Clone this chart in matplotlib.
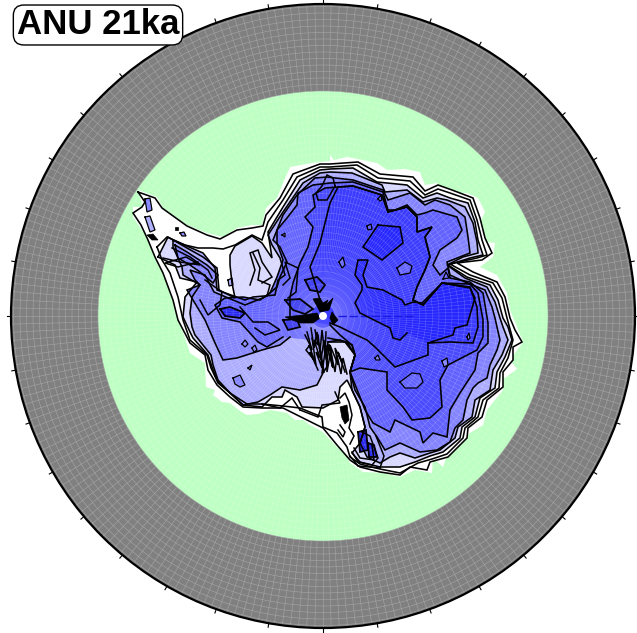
import numpy as np
import matplotlib
matplotlib.use("Agg")
import matplotlib.pyplot as plt
from matplotlib.collections import LineCollection
from matplotlib.patches import Circle

# map is in picture units, pole at the centre
pole = (323, 316)
r_grid = 312
r_ocean = 225

coast = [(138,190),(157,197),(163,208),(187,225),(207,233),(223,237),(237,228),(252,225),(262,225),(266,208),(277,198),(283,183),(290,167),
         (312,163),(330,161),(330,155),(334,160),(347,157),(377,163),(387,170),(405,169),(420,172),(425,185),(437,183),(443,192),(467,193),(478,198),(485,212),
         (480,223),(487,242),(495,243),(493,257),(480,267),(497,275),(507,293),(510,310),(517,327),(523,342),(510,360),(517,369),
         (502,380),(503,390),(487,410),(483,425),(470,433),(448,453),(443,467),(433,458),(432,473),(415,470),(400,477),(383,473),(363,472),
         (350,463),(345,453),(337,447),(323,432),(310,425),(303,420),(295,420),(287,413),(270,410),(258,414),(247,415),(240,411),(230,403),(222,402),(213,395),(215,390),(206,387),(205,363),
         (190,353),(178,317),(172,297),(162,270),(153,253),(147,237),(133,217),(133,207),(143,207)]

ring_a = [(138,192),(155,198),(162,208),(187,226),(207,235),(220,239),(237,230),(252,228),(263,226),(266,215),(280,198),(293,174),
          (320,164),(330,164),(358,162),(380,174),(413,177),(425,191),(438,185),(452,190),(473,198),(480,218),(485,238),(492,253),
          (482,260),(457,263),(473,272),(497,282),(505,297),(510,318),(515,330),(522,342),(513,347),(513,360),(503,372),(503,387),
          (487,400),(482,417),(468,428),(467,438),(448,457),(430,462),(427,470),(410,467),(400,475),(380,472),(360,467),(350,460),
          (337,445),(323,428),(303,418),(283,408),(262,408),(243,407),(230,397),(217,385),(208,370),(205,355),(190,343),(178,320),
          (173,300),(163,273),(155,257),(148,240),(141,225),(133,213),(142,207),(145,202)]

ring_b = [(157,247),(167,237),(185,245),(198,248),(213,248),(223,249),(235,245),(252,235),(262,240),(268,222),(283,200),(297,177),
          (320,167),(330,167),(357,165),(378,178),(410,181),(425,195),(438,189),(450,193),(470,200),(477,220),(482,240),(487,255),
          (477,258),(450,264),(470,275),(493,283),(502,298),(507,318),(513,340),(508,358),(500,373),(499,388),(483,400),(478,417),
          (465,428),(463,438),(447,454),(432,459),(418,463),(400,473),(380,469),(360,464),(350,457),(347,447),(337,433),(323,427),
          (322,417),(300,408),(283,406),(262,404),(247,404),(230,393),(218,383),(211,368),(207,355),(190,340),(183,320),(178,297),
          (170,273),(162,260)]

ring_c = [(158,257),(168,237),(187,248),(203,257),(217,268),(219,290),(235,298),(232,283),(230,265),(230,255),(235,246),(252,236),(262,243),(272,258),(268,232),(283,207),
          (300,180),(320,170),(330,169),(353,168),(377,182),(407,185),(423,198),(437,193),(450,198),(468,203),(475,222),(478,240),
          (483,255),(470,258),(448,265),(467,277),(490,285),(498,300),(503,318),(508,327),(512,340),(505,357),(497,372),(495,388),
          (480,398),(475,417),(462,427),(460,438),(443,452),(430,456),(415,462),(400,467),(380,467),(360,462),(352,453),(360,443),
          (365,427),(360,407),(352,390),(347,380),(340,387),(338,400),(323,408),(302,407),(297,397),(285,390),(282,397),(272,397),
          (267,402),(262,407),(243,405),(230,393),(218,382),(212,367),(208,355),(193,338),(190,332),(183,317),(185,297),(197,282),
          (180,278),(175,265)]

ring_d = [(173,240),(203,253),(215,268),(217,290),(245,300),(253,297),(275,295),(278,280),(285,275),(280,258),(272,245),(268,235),
          (283,212),(303,183),(320,173),(330,172),(352,173),(382,185),(385,192),(407,190),(423,202),(437,198),(447,200),(465,207),
          (473,223),(477,242),(478,253),(463,257),(447,265),(465,278),(487,287),(495,302),(500,318),(503,327),(508,340),(502,355),
          (493,370),(490,390),(475,400),(472,417),(458,427),(455,438),(440,450),(430,453),(415,458),(400,453),(390,457),(380,463),
          (367,457),(360,443),(365,427),(360,407),(352,390),(350,372),(355,355),(345,342),(328,342),(326,358),(328,365),(323,373),
          (317,385),(300,390),(282,387),(270,395),(258,402),(243,405),(230,393),(218,380),(213,365),(211,355),(195,335),(192,327),
          (190,313),(192,297),(200,285),(183,275),(182,267),(173,247)]

# e, f, g and h are left open where they run into the trough at the pole
ring_e = [(290,337),(280,345),(262,350),(237,358),(223,360),(215,343),(205,320),(187,290),(200,285),(195,280),(190,270),(205,275),(214,292),(245,305),(265,297),(277,287),(280,277),(287,262),(280,247),(273,240),
          (283,215),(297,195),(315,178),(327,177),(353,180),(383,190),(388,200),(410,193),(425,205),(435,200),(450,205),(465,217),
          (468,237),(470,253),(447,262),(450,275),(465,282),(485,290),(492,307),(495,318),(497,327),(500,340),(497,350),(490,365),
          (487,378),(478,383),(473,388),(467,400),(463,420),(455,428),(450,442),(437,450),(420,452),(400,443),(385,450),(377,437),
          (370,427),(365,407),(355,390),(350,372),(355,355),(347,342),(338,340),(328,338)]

ring_f = [(283,337),(267,347),(258,342),(240,322),(222,318),(215,305),
          (225,298),(243,297),(260,300),(270,293),(277,277),(283,260),(277,243),(277,230),(287,218),(297,205),(298,193),(313,185),(330,183),(353,182),(383,192),(388,210),(395,210),(407,205),(417,215),(425,213),(433,210),(457,217),
          (462,230),(457,238),(440,250),(433,265),(440,275),(448,268),(450,278),(470,282),(483,293),(487,317),(488,323),(488,343),
          (478,353),(475,370),(460,393),(450,410),(447,437),(433,433),(423,443),(420,432),(395,420),(390,432),(373,423),(365,410),
          (360,397),(350,372),(355,355),(352,345),(340,340),(328,342)]

band_e = [(175,245),(187,252),(207,265),(218,275),(213,283),(200,272),(190,265),(178,258)]

ring_g = [(290,317),(290,297),(293,283),(300,263),(308,247),(313,227),(305,217),(315,207),(313,195),(325,188),(338,187),(353,186),(382,195),(388,212),(407,207),(417,217),(417,232),(432,227),
          (425,237),(430,257),(425,270),(417,287),(413,300),(423,305),(442,283),(470,284),(478,293),(483,320),(483,337),(477,350),
          (448,365),(440,380),(442,407),(430,418),(412,420),(403,407),(387,390),(387,372),(360,368),(350,372),
          (355,355),(352,345),(340,335),(330,325)]

ring_h = [(320,300),(310,267),(320,243),(330,203),(338,187),(353,186),(382,195),(388,212),(407,207),(417,217),(417,232),(432,227),(425,237),(430,257),(425,270),(417,287),
          (413,300),(423,305),(442,283),(470,287),(477,307),(478,327),(473,343),(450,342),(428,343),(428,355),(395,367),(375,347),
          (367,340),(350,332),(340,327),(330,323)]

dome_a = [(378,225),(400,227),(403,243),(382,260),(363,247)]
dome_b = [(407,333),(400,340),(393,338),(390,328),(370,318),(360,313),(355,303),(362,290),(362,285),(355,275),(358,260),(368,260),
          (363,275),(367,287),(383,290),(402,300),(405,305),(413,302),(422,303),(442,283),(470,288),(475,298),(467,325),(455,328),
          (453,335),(428,343)]

# closed outlines drawn with the fill of their level
blobs_f = [[(397,268),(405,262),(412,266),(410,273),(400,275)],[(339,262),(343,257),(345,265),(342,268)],
           [(367,226),(371,224),(372,229),(368,230)],[(400,382),(412,373),(420,374),(423,382),(417,388),(405,388)],
           [(443,279),(446,272),(449,278)],[(378,199),(381,195),(382,200),(380,201)]]
blobs_e = [[(242,344),(245,340),(248,344),(245,347)],[(252,348),(255,345),(257,350),(254,352)],
           [(233,378),(240,375),(245,385),(240,387),(235,384)],[(248,368),(252,365),(250,370)],
           [(282,235),(285,233),(285,237)],[(375,358),(378,355),(380,360),(376,360)],
           [(442,361),(447,358),(448,365),(444,367)],[(467,337),(469,333),(470,338),(468,340)],
           [(145,199),(150,198),(152,210),(147,212)],[(180,233),(184,232),(186,236),(182,236)]]
blobs_pale = [[(145,217),(150,216),(155,230),(150,232)],[(228,280),(232,278),(233,285),(229,286)]]
blobs_dark = [[(220,309),(230,307),(245,313),(240,318),(225,316)],[(285,300),(300,299),(313,309),(305,314),(293,310)],
              [(283,320),(297,319),(300,327),(288,330)],[(305,280),(317,277),(325,285),(320,292),(310,290)],
              [(358,432),(366,430),(368,450),(360,452)],[(368,443),(374,445),(377,457),(369,457)]]
black_solid = [[(313,299),(320,298),(323,303),(328,300),(326,305),(333,298),(329,310),(320,312),(317,306)],
               [(285,317),(303,315),(317,313),(320,318),(313,323),(300,323)],
               [(332,312),(338,320),(333,325),(330,318)],
               [(340,407),(347,405),(349,420),(345,424),(342,418)],
               [(147,235),(153,234),(158,240),(152,240)],
               [(175,227),(178,227),(178,230),(175,230)]]

# narrow squiggly contours over the troughs near the pole and in the Ross embayment
squiggles = [
    [(315,330),(318,345),(314,340),(320,358),(316,352),(322,368),(320,348),(324,372)],
    [(307,332),(312,350),(309,345),(316,365),(312,338)],
    [(311,328),(314,348),(317,332),(320,352),(322,330),(325,356),(326,332)],
    [(305,335),(310,345),(306,350),(314,360),(310,352),(318,370)],
    [(328,350),(333,368),(330,345),(338,365),(335,348),(342,362),(338,352),(345,372)],
    [(322,373),(326,345),(327,372),(330,355)],
    [(331,352),(335,372),(337,355),(341,374),(343,358),(347,374)],
    [(318,335),(321,360),(324,340),(327,362),(329,344),(332,366)],
    [(340,398),(345,393),(349,402),(352,415),(349,428),(354,436),(350,444)],
    [(340,425),(345,432),(343,437),(338,430)],
    [(352,452),(358,462),(372,465),(378,458),(370,436),(362,432)],
    [(354,448),(360,458),(374,460),(372,445)],
    [(350,456),(358,466),(380,468),(384,456),(376,436)],
    [(163,258),(180,262),(200,265),(186,257),(165,263),(178,267),(198,262)],
    [(172,248),(190,257),(208,270),(212,278)],
    [(205,280),(222,292),(220,305),(208,315),(200,300)],
    [(240,307),(253,322),(268,322),(280,330),(265,335),(255,328)],
    [(283,285),(290,278),(285,262),(298,268),(296,292),(288,298)],
    [(262,283),(272,277),(262,262),(258,250),(250,253),(255,270),(250,285)],
    [(253,253),(260,268),(258,280),(270,285),(267,296)],
    [(335,186),(333,178),(327,175),(322,186),(316,193),(318,200),(327,200),(335,186)],
    [(300,410),(318,417),(322,405),(340,403),(335,392)],
    [(262,404),(280,408),(292,398),(300,410)],
]
pole_streak = [(338,316),(352,316),(360,316),(375,316),(390,316),(415,316)]

tick_angles = list(range(0, 360, 10))
label = "ANU 21ka"

grey = "#808080"
green = "#BEFFC3"
level_colors = ["#FFFFFF", "#FFFFFF", "#D8D8FF", "#ACACFF", "#8484FF", "#6262FF", "#4A4AFF", "#3C3CFF", "#2626FF"]

fig = plt.figure(figsize=(6.37, 6.33), dpi=100)
ax = fig.add_axes([0, 0, 1, 1])
ax.set_xlim(0, 637)
ax.set_ylim(633, 0)
ax.axis("off")

ax.add_patch(Circle(pole, r_grid, fc=grey, ec="none", zorder=1))
ax.add_patch(Circle(pole, r_ocean, fc=green, ec="none", zorder=2))


def fill_poly(points, color, z):
    xs, ys = zip(*points)
    ax.fill(xs, ys, fc=color, ec="none", zorder=z)


def outline(points, lw=1.15, closed=True):
    pts = list(points) + [points[0]] if closed else list(points)
    xs, ys = zip(*pts)
    ax.plot(xs, ys, color="black", lw=lw, zorder=8, solid_joinstyle="miter")


rings = [ring_a, ring_b, ring_c, ring_d, ring_e, ring_f, ring_g, ring_h]
fill_poly(coast, "white", 3)
for i, ring in enumerate(rings):
    fill_poly(ring, level_colors[i], 3 + 0.1 * (i + 1))
fill_poly(band_e, level_colors[4], 3.65)
fill_poly(dome_a, level_colors[8], 3.9)
fill_poly(dome_b, level_colors[8], 3.9)
for b in blobs_f:
    fill_poly(b, level_colors[5], 3.95)
for b in blobs_e:
    fill_poly(b, level_colors[4], 3.95)
for b in blobs_pale:
    fill_poly(b, level_colors[3], 3.95)
for b in blobs_dark:
    fill_poly(b, "#2828F0", 3.95)

# model mesh, a lat-lon style grid that shows faintly over everything
th = np.deg2rad(np.arange(0, 360, 1.5))
segs_in, segs_out = [], []
for t in th:
    segs_in.append([(pole[0] + 12 * np.cos(t), pole[1] + 12 * np.sin(t)),
                    (pole[0] + r_ocean * np.cos(t), pole[1] + r_ocean * np.sin(t))])
    segs_out.append([(pole[0] + r_ocean * np.cos(t), pole[1] + r_ocean * np.sin(t)),
                     (pole[0] + r_grid * np.cos(t), pole[1] + r_grid * np.sin(t))])
ang = np.linspace(0, 2 * np.pi, 361)
for r in np.arange(12, r_ocean, 6.5):
    segs_in.append(np.column_stack([pole[0] + r * np.cos(ang), pole[1] + r * np.sin(ang)]))
for r in np.arange(r_ocean, r_grid, 6.5):
    segs_out.append(np.column_stack([pole[0] + r * np.cos(ang), pole[1] + r * np.sin(ang)]))
ax.add_collection(LineCollection(segs_in, colors="white", linewidths=0.3, alpha=0.3, zorder=6))
ax.add_collection(LineCollection(segs_out, colors="#ABABAB", linewidths=0.45, alpha=0.8, zorder=6))

for ring in [ring_a, ring_b, ring_c, ring_d]:
    outline(ring)
for ring in [ring_e, ring_f, ring_g, ring_h]:
    outline(ring, closed=False)
outline(band_e)
outline(dome_a)
outline(dome_b, closed=False)
for b in blobs_f + blobs_e + blobs_pale:
    outline(b, lw=0.9)
for b in blobs_dark:
    outline(b, lw=1.3)
for b in black_solid:
    xs, ys = zip(*b)
    ax.fill(xs, ys, fc="black", ec="black", lw=0.5, zorder=8.5)
for s in squiggles:
    outline(s, lw=1.1, closed=False)
xs, ys = zip(*pole_streak)
ax.plot(xs, ys, color="#1A1AE0", lw=1.0, ls=(0, (6, 2)), zorder=7)

ax.add_patch(Circle(pole, 4, fc="white", ec="none", zorder=9))
ax.add_patch(Circle(pole, r_grid, fc="none", ec="black", lw=1.6, zorder=10))
for a in tick_angles:
    t = np.deg2rad(a)
    ax.plot([pole[0] + r_grid * np.cos(t), pole[0] + (r_grid + 4) * np.cos(t)],
            [pole[1] + r_grid * np.sin(t), pole[1] + (r_grid + 4) * np.sin(t)],
            color="black", lw=0.8, zorder=10)

ax.text(98, 25, label, fontsize=25, fontweight="bold", family="Liberation Sans", ha="center", va="center", zorder=12,
        bbox=dict(boxstyle="round,pad=0.1,rounding_size=0.3", fc="white", ec="black", lw=1.0))

fig.savefig("out.png", dpi=100)
